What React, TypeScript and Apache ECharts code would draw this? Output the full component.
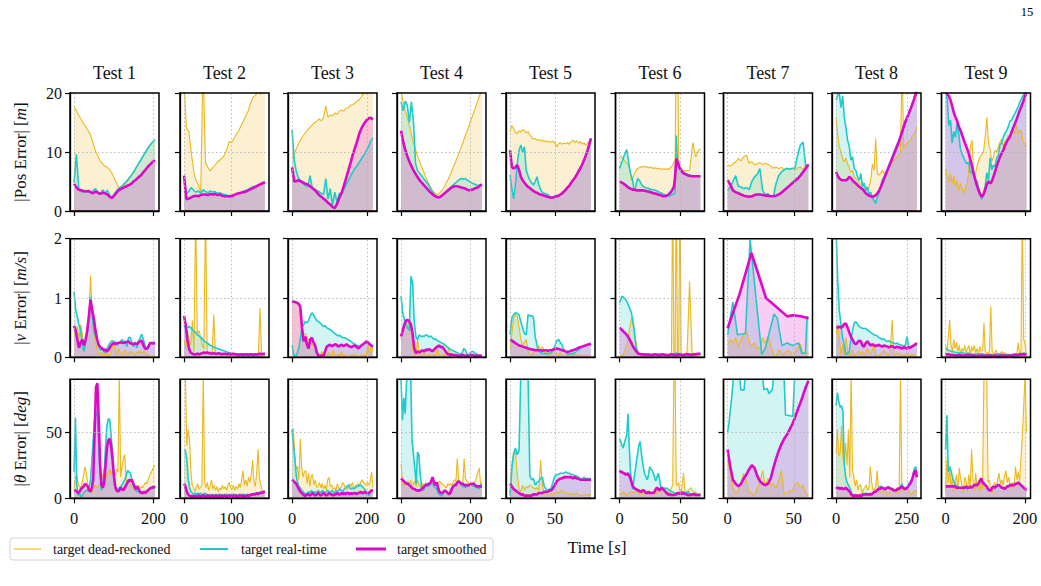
import React, { useEffect, useRef } from "react";
import * as echarts from "echarts";

// ---- categories / ticks ----
const testNames = ["Test 1", "Test 2", "Test 3", "Test 4", "Test 5", "Test 6", "Test 7", "Test 8", "Test 9"];
const durations = [204, 170, 216, 233, 90, 67, 61, 286, 204];
const xTickValues = [[0, 200], [0, 100], [0, 200], [0, 200], [0, 50], [0, 50], [0, 50], [0, 250], [0, 200]];
const yTickValues = [[0, 10, 20], [0, 1, 2], [0, 50]];
const yGridValues = [[10], [1], [50]];
const yLimits = [20, 2, 90];
const seriesNames = ["target dead-reckoned", "target real-time", "target smoothed"];

// ---- |Pos Error| [m] ----
const posDeadReckoned = [
  [17.7,17,16.2,15.5,14.8,14.2,13.6,12.8,11.5,10.2,9.3,8.5,8.0,7.6,7.4,7.0,6.3,5.5,4.6,3.8,4.0,4.4,4.8,5.3,5.9,6.5,7.2,7.9,8.6,9.3,10.0,10.6,11.2,11.7,12.1],
  [22,14,13.5,10,7,5.2,4.5,3.2,25,8.2,7.4,6.8,7.3,7.8,8.3,8.6,9.0,9.5,10.5,11.8,11.6,12.3,13.0,13.6,14.5,15.3,16.2,17.0,18.3,19.3,19.6,20.2,19.8,20.3,20],
  [8.9,9.8,10.6,11.5,12.2,12.8,13.3,13.8,14.2,14.6,15.0,15.2,15.6,15.3,15.8,17.8,15.9,16.3,16.1,16.6,16.4,16.9,17.1,16.9,17.4,17.5,17.9,18.0,18.3,18.6,18.9,19.4,20.3,21,22,23,24],
  [20.5,18.5,17.0,15.8,14.5,12.9,11.5,10.4,9.3,8.3,7.4,6.6,5.7,4.9,4.2,3.6,3.1,2.8,2.8,3.2,3.6,4.2,4.9,5.6,6.4,7.3,8.1,9.0,9.9,10.8,11.8,12.8,13.7,14.7,15.7,16.7,17.7,18.7,19.7,20.6],
  [13.4,14.5,14.0,13.3,13.1,13.6,13.4,13.8,13.7,13.2,13.5,12.9,12.5,12.2,12.3,12.0,12.1,11.9,12.0,11.8,11.9,11.7,11.8,11.6,11.9,11.5,10.9,11.4,11.6,11.3,11.5,11.4,11.6,11.3,11.8,12.0,11.6,11.9,11.5,11.8,11.3,11.6,11.2,11.4,11.8,12.3],
  [9.2,9.3,9.1,8.8,8.6,8.3,8.1,7.8,7.5,6.4,5.2,5.6,6.2,6.6,7.0,7.2,7.3,7.4,7.5,7.4,7.5,7.6,7.4,7.5,7.3,7.4,7.5,7.3,7.2,7.4,7.2,7.1,7.3,7.1,7.2,7.0,7.1,7.2,7.0,7.1,7.2,7.0,7.3,7.5,7.8,8.2,8.6,30,30,8.6,7.8,7.2,7.0,6.8,6.9,6.7,6.9,6.8,6.9,8.5,10.5,11.6,10.0,9.2,9.5,10.2,10.4,10.5],
  [7.8,7.6,8.0,8.3,8.9,8.5,9.2,9.5,8.1,8.4,7.8,8.0,8.2,7.9,8.1,7.9,7.6,7.3,7.4,7.2,7.4,7.0,7.3,7.1,7.3,7.0,7.3,7.5,7.0,7.8,7.4],
  [15.9,13.1,10.9,10.0,8.9,8.3,9.0,8.0,7.2,6.6,6.9,5.8,5.5,5.2,4.7,4.4,5.0,4.4,4.1,3.5,4.1,5.2,8.0,6.9,12.3,6.4,6.1,6.4,6.9,6.4,6.6,6.9,7.5,8.0,8.3,8.6,8.9,9.2,9.5,10.0,25,10.6,11.2,11.5,11.7,12.0,12.6,13.0,13.4,14.3],
  [7.2,5.8,5.0,6.3,4.7,5.9,4.1,5.2,3.5,4.7,3.9,3.0,4.1,4.4,6.8,10.9,12.0,6.6,6.2,7.5,8.6,9.2,9.6,10.0,12.5,15.9,11.5,10.5,8.4,9.2,10.3,10.0,10.9,11.7,12.2,10.9,11.7,12.0,12.8,12.6,13.1,13.7,13.1,14.5,13.1,13.7,13.4,11.7,11.4,10.9],
];
const posRealTime = [
  [4.8,9.6,3.7,3.3,3.2,3.5,3.3,3.0,3.4,3.8,3.2,2.8,3.6,3.0,3.5,2.7,2.3,2.9,3.5,3.9,4.2,4.6,5.0,5.5,6.0,6.6,7.3,8.0,8.6,9.3,10.0,10.6,11.2,11.7,12.1],
  [3.5,3.0,3.3,4.0,3.5,3.2,3.4,3.0,3.6,3.3,3.1,3.4,3.2,3.3,3.0,3.1,2.9,2.8,2.7,2.4,2.2,2.6,2.9,3.0,3.1,3.3,3.5,3.7,3.9,4.1,4.2,4.4,4.6,4.7,4.9],
  [13.8,8.5,6.5,5.5,5.0,4.6,4.3,4.1,6.0,3.9,3.6,3.5,3.3,3.0,2.8,5.5,2.0,3.8,1.0,3.2,1.5,3.0,3.0,3.6,4.4,5.2,5.9,6.6,7.2,7.7,8.3,8.9,9.5,10.2,10.9,11.8,12.4],
  [18.5,17.0,18.6,18.0,15.0,18.5,15.0,8.0,6.8,6.4,5.9,5.4,5.0,4.5,3.9,3.3,2.8,2.5,2.4,2.5,2.7,3.0,3.3,3.7,4.0,4.4,4.7,5.0,5.3,5.5,5.4,5.5,5.2,5.0,4.8,4.6,4.5,4.3,4.4,4.5],
  [6.1,3.8,2.1,4.5,8.0,10.3,11.2,10.0,10.9,6.9,6.0,5.2,4.8,4.4,5.0,5.8,4.5,3.6,3.2,3.0,2.9,2.8,2.5,2.1,2.3,2.4,2.6,2.7,2.8,3.0,3.3,3.6,4.0,4.3,4.8,5.2,5.6,6.1,6.7,7.2,7.8,8.5,9.3,10.2,11.2,12.3],
  [7.2,7.8,8.3,8.9,9.5,10.0,10.4,9.0,7.5,6.5,5.8,5.0,3.5,3.8,4.8,5.5,5.3,5.0,4.6,4.3,4.1,4.0,3.9,3.9,3.8,3.7,3.7,3.6,3.6,3.5,3.5,3.4,3.3,3.2,3.1,3.0,2.9,2.8,2.7,2.7,2.6,2.6,2.6,2.7,2.8,2.9,3.1,12.8,8.1,7.6,7.2,6.9,6.7,6.5,6.4,6.3,6.2,6.1,6.1,6.0,6.0,6.0,5.9,5.9,5.9,5.9,5.9,5.9],
  [3.5,4.0,5.0,6.0,4.2,4.1,3.8,4.0,3.6,5.0,5.8,6.2,7.2,3.5,2.8,2.9,2.6,2.5,4.7,6.0,6.6,7.0,7.2,7.1,7.2,7.3,9.5,11.2,11.7,7.5,7.7],
  [18.8,19.6,19.9,17.5,19.5,15.9,14.1,12.0,11.0,8.6,9.2,7.2,6.9,5.8,5.2,6.4,4.1,4.7,3.5,4.1,2.8,3.2,2.1,1.8,1.3,2.4,3.0,4.1,5.2,5.8,6.4,7.0,7.8,8.5,9.2,9.9,10.6,11.3,12.0,12.8,13.5,14.6,15.4,15.8,16.5,17.2,18.2,18.9,19.9,20.5],
  [20.5,19.0,14.5,15.4,11.5,13.5,12.5,15.0,13.0,10.5,9.7,9.0,8.4,8.0,8.3,6.5,6.7,6.0,5.5,5.0,4.0,2.7,2.0,3.0,4.2,6.5,5.2,9.0,7.0,7.8,7.5,9.0,9.5,11.2,11.5,12.5,13.2,13.6,14.3,15.2,15.4,16.0,16.5,17.1,17.7,18.5,19.0,19.6,20.0,20.3],
];
const posSmoothed = [
  [4.6,4.0,3.6,3.5,3.4,3.3,3.4,3.2,3.0,3.3,3.1,2.9,3.1,3.0,2.8,2.4,2.2,2.7,3.2,3.6,3.8,4.0,4.2,4.4,4.6,5.0,5.3,5.7,6.0,6.5,7.0,7.5,7.9,8.3,8.6],
  [6.0,2.0,2.1,2.3,2.5,2.6,2.5,2.7,2.8,2.8,2.7,2.9,2.8,2.9,2.7,2.8,2.6,2.5,2.5,2.5,2.6,2.7,2.9,3.0,3.1,3.2,3.3,3.5,3.7,3.9,4.1,4.3,4.5,4.7,4.9],
  [7.4,5.0,5.1,5.2,5.0,4.8,4.6,4.5,4.2,3.9,3.6,3.2,2.7,2.4,2.1,1.8,1.4,1.1,0.7,0.5,1.2,2.2,3.0,4.2,5.5,6.8,8.1,9.5,10.7,11.9,13.2,14.1,14.8,15.3,15.7,15.8,15.5],
  [13.6,11.8,10.4,9.3,8.4,7.6,6.9,6.3,5.7,5.2,4.8,4.4,4.0,3.6,3.2,2.9,2.6,2.4,2.3,2.4,2.7,3.0,3.3,3.6,3.9,4.1,4.2,4.2,4.1,4.0,3.9,3.8,3.6,3.5,3.6,3.7,3.9,4.0,4.3,4.5],
  [10.3,7.5,7.2,7.4,7.8,7.0,5.8,5.2,4.8,4.4,4.1,3.9,3.6,3.4,3.2,3.1,2.9,2.8,2.7,2.6,2.5,2.4,2.3,2.3,2.3,2.4,2.5,2.6,2.8,3.0,3.3,3.6,4.0,4.3,4.8,5.2,5.6,6.1,6.7,7.2,7.8,8.5,9.3,10.2,11.2,12.3],
  [5.0,4.9,4.8,4.7,4.5,4.4,4.2,4.0,3.9,3.8,3.7,3.6,3.6,3.6,3.5,3.5,3.5,3.5,3.5,3.5,3.5,3.4,3.4,3.3,3.3,3.2,3.2,3.1,3.0,3.0,2.9,2.9,2.8,2.7,2.7,2.6,2.5,2.5,2.5,2.6,2.7,2.9,3.1,3.3,3.7,4.1,5.8,8.9,8.3,7.7,7.2,6.9,6.6,6.4,6.3,6.2,6.1,6.0,6.0,5.9,5.9,5.9,5.9,5.9,5.9,5.9,5.9,5.9],
  [5.2,4.5,3.5,3.2,3.0,2.8,2.6,2.5,2.4,2.5,2.7,2.8,2.8,2.7,2.6,2.6,2.5,2.5,2.6,2.8,3.1,3.5,3.9,4.3,4.7,5.1,5.5,6.0,6.6,7.2,7.9],
  [6.6,6.0,5.5,5.3,5.2,5.2,5.2,5.4,5.8,5.6,5.2,4.9,4.7,4.4,4.1,3.9,3.7,3.4,3.0,2.8,2.6,2.5,2.4,2.5,2.7,3.0,3.4,4.0,4.7,5.4,6.1,6.8,7.5,8.2,8.9,9.6,10.3,11.0,11.7,12.5,13.4,14.3,15.1,15.8,16.5,17.2,17.9,18.7,19.6,20.3],
  [20.0,19.8,19.5,18.8,17.8,16.7,15.9,15.3,14.3,13.7,12.9,12.1,11.3,10.6,9.8,8.7,7.6,6.4,5.3,4.3,3.5,2.8,2.4,2.8,3.6,4.5,5.0,4.7,5.0,5.8,6.7,7.6,8.4,9.2,9.8,10.3,11.1,11.7,12.2,12.6,13.4,14.1,14.8,15.5,16.3,17.1,17.8,18.5,19.4,20.0],
];

// ---- |v Error| [m/s] ----
const velDeadReckoned = [
  [0.38,0.45,0.52,0.3,0.55,0.4,0.2,0.3,0.5,0.7,1.38,0.7,0.45,0.25,0.12,0.05,0.08,0.04,0.08,0.02,0.1,0.02,0.06,0.15,0.27,0.12,0.05,0.15,0.07,0.04,0.08,0.12,0.05,0.06,0.1,0.08,0.06,0.04,0.08,0.09,0.1,0.07,0.1,0.09,0.05,0.04,0.02,0.01,0.02,0.03],
  [0.3,0.15,0.45,0.3,0.2,0.62,0.1,2.5,0.4,0.45,0.35,0.2,0.15,2.5,0.1,0.05,0.08,0.05,0.72,0.05,0.04,0.06,0.05,0.04,0.06,0.03,0.05,0.04,0.06,0.05,0.03,0.04,0.05,0.03,0.04,0.06,0.04,0.03,0.05,0.04,0.03,0.05,0.04,0.03,0.04,0.03,0.83,0.05,0.03,0.04],
  [0.93,0.93,0.92,0.92,0.9,0.85,0.55,0.38,0.4,0.33,0.3,0.25,0.22,0.2,0.18,0.1,0.05,0.02,0.1,0.02,0.05,0.01,0.08,0.03,0.02,0.12,0.05,0.02,0.06,0.03,0.1,0.02,0.05,0.01,0.03,0.02,0.04,0.02,0.06,0.02,0.03,0.01,0.04,0.02,0.05,0.03,0.2,0.05,0.2,0.1],
  [0.3,0.45,0.55,0.6,0.58,0.52,0.5,0.15,0.05,0.03,0.3,0.1,0.05,0.02,0.08,0.04,0.02,0.06,0.03,0.02,0.05,0.02,0.15,0.05,0.02,0.03,0.06,0.02,0.04,0.18,0.05,0.03,0.02,0.04,0.02,0.03,0.05,0.02,0.06,0.03,0.02,0.04,0.07,0.03,0.02,0.04,0.03,0.02,0.03,0.02],
  [0.15,0.4,0.66,0.72,0.7,0.5,0.3,0.2,0.25,0.3,0.1,0.05,0.04,0.08,0.12,0.15,0.2,0.12,0.18,0.1,0.05,0.1,0.02,0.06,0.15,0.12,0.05,0.03,0.08,0.04,0.02,0.03,0.05,0.02,0.04,0.03,0.06,0.02,0.05,0.03,0.02,0.04,0.02,0.03,0.02,0.02],
  [0.02,0.02,0.03,0.05,0.08,0.15,0.2,0.3,0.45,0.55,0.66,0.6,0.5,0.35,0.2,0.1,0.05,0.04,0.05,0.03,0.04,0.02,0.05,0.04,0.03,0.05,0.04,0.06,0.05,0.04,0.06,0.05,0.04,0.05,0.06,0.04,0.05,0.04,0.06,0.05,0.04,0.05,0.06,0.05,3,0.05,0.05,3,0.05,0.05,3,0.06,0.05,0.04,0.05,0.06,0.1,0.7,1.28,0.7,0.1,0.05,0.04,0.03,0.05,0.04,0.03,0.04],
  [0.21,0.3,0.25,0.33,0.18,0.3,0.38,0.44,0.25,0.2,0.24,0.15,0.15,0.33,0.24,0.35,0.2,0.05,0.02,0.13,0.07,0.05,0.1,0.1,0.05,0.08,0.15,0.22,0.05,0.07,0.09],
  [0.4,0.55,0.3,0.05,0.21,0.05,0.33,0.1,0.02,0.08,0.12,0.02,0.05,0.08,0.1,0.05,0.1,0.03,0.08,0.15,0.07,0.05,0.13,0.24,0.04,0.02,0.03,0.06,0.08,0.12,0.08,0.05,0.04,0.2,0.63,0.05,0.04,0.06,0.07,0.05,0.03,0.02,0.05,0.07,0.04,0.03,0.05,0.04,0.02,0.03],
  [0.2,0.1,0.35,0.63,0.2,0.1,0.3,0.15,0.25,0.1,0.2,0.05,0.15,0.1,0.2,0.08,0.15,0.2,0.05,0.18,0.1,0.2,0.08,0.15,0.05,0.18,0.1,0.12,0.58,0.1,0.08,0.05,0.12,0.86,0.1,0.05,0.08,0.12,0.05,0.03,0.06,0.1,0.04,0.08,0.05,0.03,0.06,0.04,0.05,0.02,0.05,0.03,0.06,0.25,0.05,0.1,2.5,0.3,0.22,0.05],
];
const velRealTime = [
  [1.11,0.8,0.68,0.55,0.45,0.2,0.1,0.25,0.4,0.7,1.02,0.7,0.45,0.35,0.3,0.2,0.12,0.15,0.1,0.08,0.15,0.2,0.25,0.28,0.27,0.25,0.2,0.24,0.26,0.3,0.25,0.28,0.18,0.33,0.34,0.25,0.18,0.25,0.16,0.27,0.33,0.39,0.3,0.2,0.13,0.16,0.22,0.24,0.25,0.26],
  [0.55,0.48,0.5,0.52,0.5,0.47,0.44,0.42,0.38,0.36,0.34,0.31,0.28,0.26,0.24,0.22,0.2,0.19,0.17,0.16,0.15,0.14,0.13,0.12,0.11,0.1,0.09,0.08,0.07,0.07,0.06,0.06,0.05,0.05,0.05,0.04,0.05,0.04,0.04,0.05,0.05,0.06,0.05,0.04,0.04,0.05,0.05,0.05,0.05,0.06],
  [0.2,0.05,0.02,0.05,0.15,0.3,0.5,0.55,0.6,0.58,0.62,0.7,0.75,0.72,0.66,0.62,0.6,0.58,0.55,0.52,0.53,0.5,0.48,0.47,0.45,0.42,0.4,0.38,0.36,0.37,0.34,0.33,0.33,0.31,0.3,0.28,0.26,0.24,0.22,0.2,0.2,0.18,0.2,0.22,0.24,0.27,0.25,0.22,0.2,0.19],
  [1.03,0.75,0.65,0.55,0.5,0.45,1.37,1.25,0.6,0.35,0.3,0.38,0.35,0.36,0.35,0.38,0.37,0.34,0.36,0.33,0.3,0.31,0.28,0.27,0.25,0.24,0.22,0.2,0.17,0.15,0.13,0.12,0.1,0.09,0.08,0.06,0.05,0.07,0.15,0.12,0.05,0.04,0.08,0.1,0.09,0.06,0.05,0.04,0.03,0.02],
  [0.38,0.66,0.72,0.75,0.74,0.72,0.6,0.5,0.4,0.38,0.72,0.7,0.7,0.68,0.35,0.2,0.1,0.08,0.07,0.06,0.07,0.06,0.07,0.08,0.12,0.2,0.28,0.3,0.25,0.2,0.12,0.08,0.06,0.05,0.07,0.06,0.08,0.1,0.12,0.15,0.17,0.19,0.2,0.21,0.21,0.22],
  [0.92,1.03,1.0,0.95,0.85,0.75,0.5,0.15,0.06,0.05,0.05,0.06,0.05,0.04,0.05,0.06,0.05,0.05,0.06,0.05,0.04,0.05,0.05,0.06,0.07,0.06,0.05,0.05,0.04,0.05,0.05,0.04,0.05,0.05,0.06],
  [[0,0.38],[4,0.93],[7.5,0.38],[13.5,0.4],[17,1.98],[25.8,0.05],[28.5,0.15],[35,0.73],[37.5,0.66],[41,0.2],[45,0.24],[49,0.2],[53.7,0.24],[56,0.07],[58.7,0.07],[60,0.69],[61,0.66]],
  [2.2,1.3,0.78,0.55,0.33,0.2,0.05,0.06,0.1,0.3,0.45,0.58,0.6,0.56,0.52,0.5,0.49,0.48,0.49,0.46,0.44,0.42,0.4,0.38,0.37,0.36,0.33,0.32,0.3,0.31,0.28,0.27,0.28,0.26,0.25,0.24,0.23,0.24,0.22,0.21,0.2,0.19,0.21,0.35,0.18,0.17,0.2,0.19,0.2,0.21],
  [0.15,0.12,0.1,0.09,0.08,0.07,0.08,0.06,0.07,0.06,0.05,0.06,0.05,0.06,0.05,0.04,0.05,0.04,0.05,0.06,0.05,0.04,0.05,0.04,0.05,0.06,0.05,0.06,0.07,0.06],
];
const velSmoothed = [
  [0.53,0.45,0.3,0.16,0.25,0.3,0.2,0.3,0.45,0.7,0.97,0.8,0.65,0.45,0.3,0.2,0.17,0.15,0.12,0.13,0.1,0.13,0.18,0.22,0.24,0.22,0.24,0.24,0.25,0.25,0.24,0.25,0.26,0.27,0.24,0.23,0.22,0.24,0.22,0.25,0.27,0.28,0.2,0.15,0.14,0.18,0.24,0.24,0.23,0.24],
  [0.7,0.55,0.3,0.15,0.08,0.06,0.05,0.05,0.06,0.05,0.06,0.07,0.08,0.07,0.08,0.07,0.07,0.06,0.07,0.06,0.06,0.07,0.06,0.05,0.06,0.06,0.05,0.06,0.05,0.05,0.06,0.05,0.05,0.04,0.05,0.05,0.04,0.05,0.05,0.04,0.05,0.05,0.04,0.05,0.05,0.05,0.06,0.05,0.06,0.06],
  [0.93,0.94,0.93,0.92,0.9,0.85,0.5,0.27,0.35,0.22,0.15,0.3,0.33,0.25,0.2,0.08,0.03,0.02,0.03,0.02,0.1,0.18,0.2,0.21,0.19,0.2,0.22,0.21,0.18,0.2,0.21,0.19,0.2,0.22,0.2,0.18,0.17,0.19,0.2,0.18,0.15,0.17,0.2,0.22,0.24,0.27,0.25,0.22,0.2,0.18],
  [0.35,0.45,0.55,0.62,0.63,0.6,0.55,0.4,0.15,0.07,0.1,0.08,0.1,0.12,0.1,0.13,0.12,0.14,0.12,0.1,0.13,0.16,0.18,0.2,0.17,0.18,0.14,0.1,0.06,0.05,0.04,0.05,0.03,0.04,0.03,0.02,0.03,0.04,0.03,0.02,0.03,0.02,0.03,0.04,0.03,0.02,0.03,0.02,0.03,0.02],
  [0.3,0.28,0.26,0.24,0.22,0.2,0.19,0.18,0.17,0.16,0.15,0.14,0.13,0.13,0.12,0.12,0.12,0.12,0.11,0.12,0.12,0.11,0.12,0.12,0.13,0.14,0.15,0.14,0.13,0.12,0.11,0.1,0.09,0.1,0.11,0.12,0.13,0.14,0.16,0.17,0.18,0.19,0.2,0.21,0.22,0.23],
  [0.5,0.46,0.42,0.38,0.32,0.24,0.16,0.1,0.06,0.05,0.05,0.04,0.05,0.04,0.04,0.05,0.04,0.04,0.05,0.04,0.04,0.04,0.05,0.04,0.04,0.05,0.04,0.04,0.05,0.05,0.04,0.05,0.05,0.06,0.06],
  [[0,0.49],[9,1.06],[18,1.76],[29,1.0],[45,0.69],[49,0.71],[56,0.69],[61,0.66]],
  [0.5,0.5,0.52,0.5,0.52,0.56,0.57,0.5,0.42,0.35,0.3,0.24,0.22,0.25,0.28,0.27,0.2,0.18,0.24,0.27,0.23,0.2,0.22,0.2,0.19,0.2,0.21,0.19,0.18,0.2,0.19,0.18,0.17,0.18,0.19,0.17,0.16,0.18,0.17,0.16,0.15,0.17,0.16,0.15,0.17,0.16,0.18,0.2,0.22,0.24],
  [0.05,0.05,0.04,0.04,0.03,0.04,0.03,0.03,0.04,0.03,0.03,0.02,0.03,0.03,0.02,0.03,0.03,0.02,0.03,0.02,0.03,0.03,0.02,0.03,0.03,0.04,0.04,0.05,0.05,0.05],
];

// ---- |θ Error| [deg] ----
const headDeadReckoned = [
  [6,16,18,11,9,8,13,18,24,19,11,6,5,4,6,10,9,8,9,12,14,18,22,19,16,20,22,18,21,19,17,22,20,95,16,24,30,33,14,11,12,10,9,8,7,6,8,10,7,9,8,10,12,11,14,17,19,21,24,25],
  [95,95,40,52,45,20,10,8,5,9,11,7,8,10,95,12,8,12,6,9,14,7,10,6,9,5,8,6,10,7,9,6,10,12,8,7,10,6,9,7,11,8,14,21,10,14,9,16,12,18,29,12,9,20,37,15,10,6,5,4],
  [50,53,31,22,24,14,45,24,16,20,21,11,19,9,17,18,10,14,8,9,12,8,11,7,10,6,14,16,9,10,7,8,6,11,8,7,9,12,10,8,7,8,11,9,12,8,9,10,11,9,12,14,12,11,10,12,10,13,20,8],
  [26,14,9,12,11,13,10,14,10,11,13,9,14,11,9,7,11,10,12,9,11,10,12,14,11,10,12,11,13,12,11,10,9,8,11,10,11,10,12,14,13,30,14,11,12,10,30,15,13,12,11,10,11,12,13,16,20,23,11,12],
  [4,26,34,35,18,7,5,10,6,9,8,10,9,8,7,8,6,29,9,4,3,2,3,4,3,4,5,4,5,6,5,4,4,3,4,3,3,4,3,2,2,3,3,2,3,3],
  [2.5,3,4,5,4,3,2.5,3,4,4.5,5,4.5,4,5,6,5,4,3,4,5,4,3,4,5,4,3,4,5,4,3,4,5,6,5,4,6,7,6,5,4,5,4,5,8,10,95,95,10,10,12,5,4,12,19,6,5,5,6,7,8,6,5,4,5,4,3,3,4],
  [29,20,8,4,6,12,19,12,5,4,2,8,12,21,10,15,10,11,8,14,21,3,4,6,5,11,12,8,10,4,2],
  [34,52,32,34,55,30,26,42,25,52,16,95,21,16,9,14,6,10,10,4,7,8,10,6,8,24,12,6,7,9,21,6,5,4,5,6,6,4,3,4,6,8,5,5,4,4,5,95,11,5,8,9,7,6,4,3,4,5,6,4],
  [5,30,12,22,8,16,5,12,18,6,23,15,10,4,16,13,5,18,9,37,14,6,19,8,11,5,12,7,95,95,95,12,14,5,4,10,12,8,14,19,11,14,10,17,21,12,16,10,7,12,8,24,14,20,13,30,47,69,95,50],
];
const headRealTime = [
  [20,61,10,2,4,1,2,4,5,6,6,8,14,28,45,60,66,62,40,20,6,10,20,40,55,60,60,48,35,18,8,6,7,8,9,10,12,14,17,21,20,19,15,10,8,6,5,5,4,5,4,4,5,6,6,7,8,7,8,7],
  [37,36,30,15,8,5,4,3,4,3,4,3,4,3,3,4,3,3,2,3,2,3,2,3,2,3,3,2,3,2,3,3,2,3,2,3,3,2,3,2,3,3,2,3,3,2,3,3,2,3,3,4,3,4,4,4,5,4,5,5],
  [52,40,31,18,12,9,8,6,5,4,3,4,5,4,6,5,4,5,4,6,5,4,6,5,4,5,6,5,4,6,5,4,6,5,6,7,6,5,7,8,9,10,8,7,8,7,8,9,9,10,10,9,8,7,5,3,2,4,6,6],
  [90,59,76,64,88,95,95,95,44,34,23,11,35,33,18,9,6,7,11,10,9,10,11,11,9,8,7,4,3,2,2,4,6,5,4,4,6,8,9,10,11,12,12,11,10,9,9,8,9,10,11,10,10,9,9,8,8,7,10,11],
  [2,22,34,38,33,36,95,95,95,95,95,17,14,15,10,12,13,15,16,9,7,6,7,8,13,17,18,18,19,19,19,20,19,19,18,18,17,17,16,15,14,16,15,15,15,15],
  [45,43,40,38,42,45,48,64,40,21,12,7,15,21,28,34,40,43,35,28,22,18,16,14,18,24,22,21,19,16,13,16,19,15,9,8,7,8,7,8,7,6,6,5,5,4,4,4,3,3,4,5,5,5,4,4,5,5,4,3,3,3,4,3,3,3,3,2.5],
  [[0,50],[1,56],[2,66],[3,75],[4,86],[4.5,95],[9,95],[10,82],[12.5,82],[13.5,95],[26,95],[27.5,82],[30,83],[31.2,79],[33.7,82],[35,95],[42.5,95],[43.7,63],[49.2,62],[50.7,95],[61,95]],
  [70,80,73,69,70,66,26,16,12,10,8,5,3,2,3,2,2,2,3,3,4,3,4,3,3,4,3,4,5,6,7,8,9,9,8,8,7,8,9,8,7,7,6,6,7,8,8,9,11,8,7,8,9,11,12,14,17,22,24,19],
  [37,63,20,24,21,16,13,11,9,9,8,8,8,9,8,8,7,8,9,8,9,10,11,10,12,14,15,13,12,10,9,7,6,6,8,9,8,9,10,10,9,8,8,7,8,9,9,10,11,10,10,11,11,12,11,10,9,8,7,6],
];
const headSmoothed = [
  [6,6,5,4,5,7,8,9,11,10,9,6,5,8,15,50,84,87,60,25,10,8,12,25,38,44,45,40,30,18,9,6,5,6,8,7,6,8,10,12,14,13,14,12,9,7,9,7,5,4,4,5,4,5,6,7,8,8,9,8],
  [11,9,5,3,2,1,2,1,2,1,2,2,1,2,2,2,1,2,2,1,2,2,1,2,2,1,2,2,1,2,2,1,2,2,2,1,2,2,2,1,2,2,2,2,1,2,2,2,2,3,3,3,3,4,3,4,4,4,5,5],
  [14,13,12,11,9,7,5,4,3,2,2,3,3,2,3,4,3,2,3,4,3,2,3,4,3,2,3,4,3,3,2,3,3,4,3,3,4,3,4,3,4,4,3,4,3,4,4,3,4,4,5,4,4,5,4,4,4,5,6,6],
  [15,14,13,12,11,11,10,9,8,7,7,6,6,6,6,7,8,9,10,10,11,11,13,16,12,10,12,8,5,4,4,5,6,5,4,3,4,7,9,10,10,12,13,12,11,11,10,10,10,10,10,11,11,11,10,9,9,9,9,9],
  [11,9,7,6,5,4,3,3,2,2,2,2,2,3,3,3,4,4,4,5,5,5,6,6,8,10,13,14,15,15,16,16,16,16,16,15,16,15,15,14,14,14,14,14,14,14],
  [21,20,20,19,19,18,18,19,17,15,12,9,8,7,7,6,6,5,5,6,6,5,4,4,5,4,4,4,4,5,7,8,7,6,7,8,7,6,5,4,3,3,3,2.5,2.5,2.5,3,3,4,4,3.5,3.5,3.5,4,3.5,3,3,2.5,2.5,2.5,3,3,3,2.5,2.5,2.5,2.5,2.5],
  [37,24,14,11,9,11,15,18,22,25,23,17,13,11,10,11,15,23,30,36,41,45,48,52,56,61,67,72,78,84,89],
  [7,8,8,7,8,7,7,8,7,6,5,3,2,2,2,2,2,2,2,2,3,3,3,3,3,3,3,4,5,5,6,7,7,8,8,7,7,8,8,8,7,7,6,6,6,7,7,8,9,8,7,7,8,10,11,13,16,20,21,16],
  [9,9,9,9,9,9,9,9,8,8,8,8,8,8,8,9,8,8,9,8,9,10,10,10,11,13,15,12,11,10,9,7,6,6,8,9,8,9,10,10,9,8,8,7,8,9,9,10,10,10,10,11,11,12,11,10,9,8,7,6],
];

// ---- styling ----
const FONT = "'Liberation Serif', 'Times New Roman', serif";
const TEXT = "#111";
const lineColors = ["#EBB81E", "#1FCBC8", "#DC0AC6"];
const lineWidths = [1.1, 1.6, 2.6];
const fillOpacity = 0.2;

const colLeft = [70, 180, 288, 397, 506, 615.5, 723.5, 832, 941.5];
const colWidth = 89;
const rowTop = [93, 238.7, 379.3];
const rowHeight = [118, 118.6, 119];

const rowData = [
  [posDeadReckoned, posRealTime, posSmoothed],
  [velDeadReckoned, velRealTime, velSmoothed],
  [headDeadReckoned, headRealTime, headSmoothed],
];
const rowLabels = [
  "|Pos Error| [{i|m}]",
  "|{i|v} Error| [{i|m/s}]",
  "|{i|θ} Error| [{i|deg}]",
];

function toPoints(vals: any[], dur: number): number[][] {
  if (Array.isArray(vals[0])) return vals as number[][];
  const n = vals.length;
  return vals.map((v: number, i: number) => [(i * dur) / (n - 1), v]);
}

function buildOption() {
  const grid: any[] = [];
  const xAxis: any[] = [];
  const yAxis: any[] = [];
  const series: any[] = [];
  const graphic: any[] = [];

  for (let r = 0; r < 3; r++) {
    for (let c = 0; c < 9; c++) {
      const idx = r * 9 + c;
      const dur = durations[c];
      grid.push({ left: colLeft[c], top: rowTop[r], width: colWidth, height: rowHeight[r], containLabel: false });
      xAxis.push({
        gridIndex: idx,
        type: "value",
        min: -0.05 * dur,
        max: 1.05 * dur,
        axisLine: { show: true, onZero: false, lineStyle: { color: "#000", width: 1.3 } },
        axisTick: { show: true, customValues: xTickValues[c], length: 5, lineStyle: { color: "#000", width: 1.2 } },
        axisLabel: { show: r === 2, customValues: xTickValues[c], margin: 12, color: TEXT, fontFamily: FONT, fontSize: 16.5 },
        splitLine: { show: false },
      });
      yAxis.push({
        gridIndex: idx,
        type: "value",
        min: 0,
        max: yLimits[r],
        axisLine: { show: true, onZero: false, lineStyle: { color: "#000", width: 1.3 } },
        axisTick: { show: true, customValues: yTickValues[r], length: 5, lineStyle: { color: "#000", width: 1.2 } },
        axisLabel: { show: c === 0, customValues: yTickValues[r], margin: 8, color: TEXT, fontFamily: FONT, fontSize: 16 },
        splitLine: { show: false },
      });
      // translucent fills first, underneath every line
      for (let k = 0; k < 3; k++) {
        series.push({
          type: "line",
          name: seriesNames[k],
          xAxisIndex: idx,
          yAxisIndex: idx,
          data: toPoints(rowData[r][k][c], dur),
          symbol: "none",
          showSymbol: false,
          clip: true,
          silent: true,
          z: 1,
          lineStyle: { width: 0, opacity: 0 },
          itemStyle: { color: lineColors[k] },
          areaStyle: { color: lineColors[k], opacity: fillOpacity },
          emphasis: { disabled: true },
        });
      }
      // then the lines
      for (let k = 0; k < 3; k++) {
        const s: any = {
          type: "line",
          name: seriesNames[k],
          xAxisIndex: idx,
          yAxisIndex: idx,
          data: toPoints(rowData[r][k][c], dur),
          symbol: "none",
          showSymbol: false,
          clip: true,
          silent: true,
          z: 2,
          lineStyle: { color: lineColors[k], width: lineWidths[k] },
          itemStyle: { color: lineColors[k] },
          emphasis: { disabled: true },
        };
        if (k === 0) {
          s.markLine = {
            silent: true,
            symbol: ["none", "none"],
            label: { show: false },
            lineStyle: { color: "#b4b4b4", width: 0.9, type: [1.5, 2.5] },
            emphasis: { disabled: true },
            data: [
              ...xTickValues[c].map((v) => ({ xAxis: v })),
              ...yGridValues[r].map((v) => ({ yAxis: v })),
            ],
          };
        }
        series.push(s);
      }
      // panel frame drawn above the data
      graphic.push({
        type: "rect",
        silent: true,
        z: 100,
        shape: { x: colLeft[c], y: rowTop[r], width: colWidth, height: rowHeight[r] },
        style: { fill: "none", stroke: "#000", lineWidth: 1.5 },
      });
    }
  }

  // column titles
  testNames.forEach((name, c) => {
    graphic.push({
      type: "text",
      z: 100,
      x: colLeft[c] + colWidth / 2,
      y: 73,
      style: { text: name, fontFamily: FONT, fontSize: 18, fill: TEXT, align: "center", verticalAlign: "middle" },
    });
  });

  // row labels
  rowLabels.forEach((label, r) => {
    graphic.push({
      type: "text",
      z: 100,
      x: 20,
      y: rowTop[r] + rowHeight[r] / 2,
      rotation: Math.PI / 2,
      style: {
        text: label,
        fontFamily: FONT,
        fontSize: 17,
        fill: TEXT,
        align: "center",
        verticalAlign: "middle",
        rich: { i: { fontFamily: FONT, fontSize: 17, fontStyle: "italic", fill: TEXT } },
      },
    });
  });

  // x label
  graphic.push({
    type: "text",
    z: 100,
    x: 597,
    y: 547,
    style: {
      text: "Time [{i|s}]",
      fontFamily: FONT,
      fontSize: 17.5,
      fill: TEXT,
      align: "center",
      verticalAlign: "middle",
      rich: { i: { fontFamily: FONT, fontSize: 17.5, fontStyle: "italic", fill: TEXT } },
    },
  });

  // page number
  graphic.push({
    type: "text",
    z: 100,
    x: 1027,
    y: 12,
    style: { text: "15", fontFamily: FONT, fontSize: 12.5, fill: "#000", align: "center", verticalAlign: "middle" },
  });

  // legend box
  graphic.push({
    type: "rect",
    z: 100,
    shape: { x: 10, y: 538, width: 483, height: 22, r: 3 },
    style: { fill: "rgba(255,255,255,0.85)", stroke: "#d2d2d2", lineWidth: 1 },
  });
  const legendLineX = [[14, 41], [200, 228], [356, 386]];
  const legendTextX = [53, 241, 397];
  seriesNames.forEach((name, k) => {
    graphic.push({
      type: "line",
      z: 101,
      shape: { x1: legendLineX[k][0], y1: 549, x2: legendLineX[k][1], y2: 549 },
      style: { stroke: lineColors[k], lineWidth: lineWidths[k] + 0.4, opacity: k === 0 ? 0.75 : 1 },
    });
    graphic.push({
      type: "text",
      z: 101,
      x: legendTextX[k],
      y: 549,
      style: { text: name, fontFamily: FONT, fontSize: 14, fill: TEXT, align: "left", verticalAlign: "middle" },
    });
  });

  return { animation: false, backgroundColor: "#fff", grid, xAxis, yAxis, series, graphic };
}

export default function App() {
  const ref = useRef<HTMLDivElement>(null);
  useEffect(() => {
    if (!ref.current) return;
    const chart = echarts.init(ref.current, null, { renderer: "svg" });
    chart.setOption(buildOption() as any);
    return () => chart.dispose();
  }, []);
  return (
    <div
      ref={ref}
      style={{ position: "absolute", left: 0, top: 0, width: 1041, height: 586 }}
    />
  );
}
